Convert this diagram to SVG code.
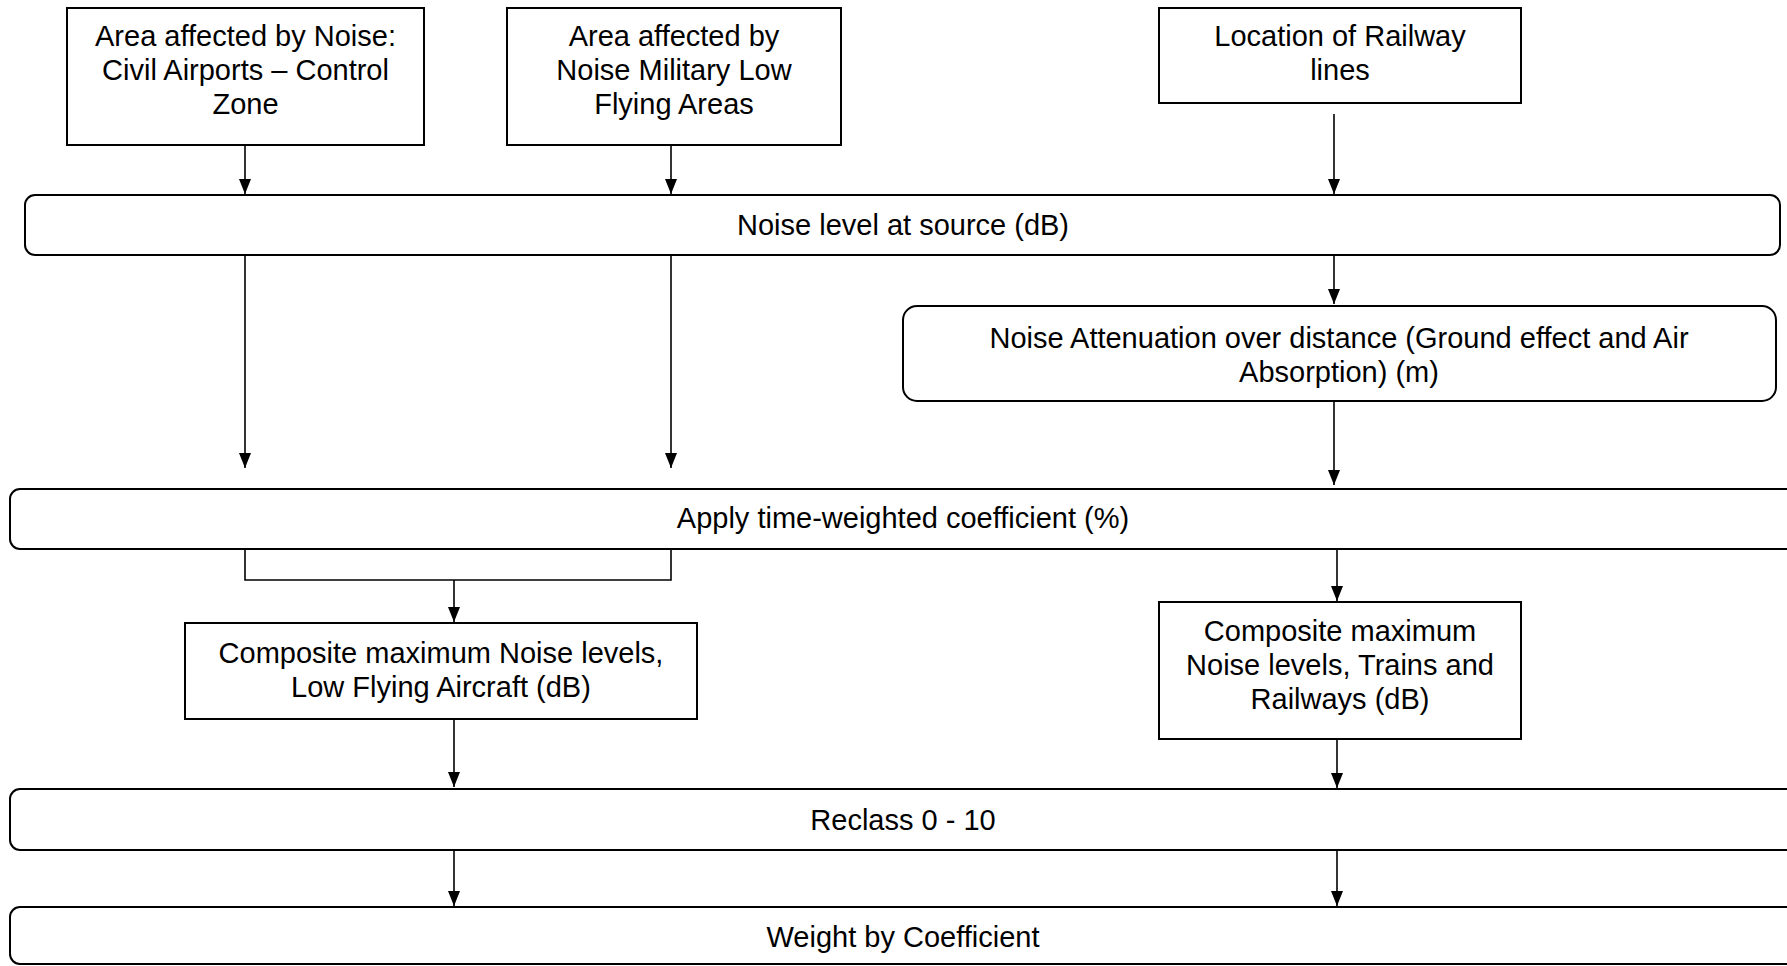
<svg xmlns="http://www.w3.org/2000/svg" width="1787" height="966" viewBox="0 0 1787 966">
<style>
.box{fill:#fff;stroke:#000;stroke-width:2}
.t{font-family:"Liberation Sans",Arial,sans-serif;font-size:29px;fill:#000;text-anchor:middle}
.c{fill:none;stroke:#000;stroke-width:1.6}
</style>
<defs>
<marker id="ah" markerUnits="userSpaceOnUse" markerWidth="15" markerHeight="12" refX="15" refY="6" orient="auto">
<path d="M0,0 L15,6 L0,12 z" fill="#000"/>
</marker>
</defs>
<rect width="1787" height="966" fill="#fff"/>
<g id="connectors">
<line class="c" x1="245" y1="145" x2="245" y2="194" marker-end="url(#ah)"/>
<line class="c" x1="671" y1="145" x2="671" y2="194" marker-end="url(#ah)"/>
<line class="c" x1="1334" y1="114" x2="1334" y2="194" marker-end="url(#ah)"/>
<line class="c" x1="245" y1="255" x2="245" y2="468" marker-end="url(#ah)"/>
<line class="c" x1="671" y1="255" x2="671" y2="468" marker-end="url(#ah)"/>
<line class="c" x1="1334" y1="255" x2="1334" y2="304" marker-end="url(#ah)"/>
<line class="c" x1="1334" y1="397" x2="1334" y2="485" marker-end="url(#ah)"/>
<polyline class="c" points="245,549 245,580 671,580 671,549"/>
<line class="c" x1="454" y1="580" x2="454" y2="622" marker-end="url(#ah)"/>
<line class="c" x1="1337" y1="549" x2="1337" y2="601" marker-end="url(#ah)"/>
<line class="c" x1="454" y1="714" x2="454" y2="787" marker-end="url(#ah)"/>
<line class="c" x1="1337" y1="739" x2="1337" y2="788" marker-end="url(#ah)"/>
<line class="c" x1="454" y1="850" x2="454" y2="906" marker-end="url(#ah)"/>
<line class="c" x1="1337" y1="850" x2="1337" y2="906" marker-end="url(#ah)"/>
</g>
<g id="n-civil">
<rect class="box" x="67" y="8" width="357" height="137"/>
<text class="t" x="245.5" y="46">Area affected by Noise:</text>
<text class="t" x="245.5" y="80">Civil Airports – Control</text>
<text class="t" x="245.5" y="114">Zone</text>
</g>
<g id="n-military">
<rect class="box" x="507" y="8" width="334" height="137"/>
<text class="t" x="674" y="46">Area affected by</text>
<text class="t" x="674" y="80">Noise Military Low</text>
<text class="t" x="674" y="114">Flying Areas</text>
</g>
<g id="n-railway">
<rect class="box" x="1159" y="8" width="362" height="95"/>
<text class="t" x="1340" y="46">Location of Railway</text>
<text class="t" x="1340" y="80">lines</text>
</g>
<g id="n-source">
<rect class="box" x="25" y="195" width="1755" height="60" rx="10"/>
<text class="t" x="903" y="235">Noise level at source (dB)</text>
</g>
<g id="n-attenuation">
<rect class="box" x="903" y="306" width="873" height="95" rx="14"/>
<text class="t" x="1339" y="348">Noise Attenuation over distance (Ground effect and Air</text>
<text class="t" x="1339" y="382">Absorption) (m)</text>
</g>
<g id="n-time">
<rect class="box" x="10" y="489" width="1800" height="60" rx="10"/>
<text class="t" x="903" y="528">Apply time-weighted coefficient (%)</text>
</g>
<g id="n-lfa">
<rect class="box" x="185" y="623" width="512" height="96"/>
<text class="t" x="441" y="663">Composite maximum Noise levels,</text>
<text class="t" x="441" y="697">Low Flying Aircraft (dB)</text>
</g>
<g id="n-trains">
<rect class="box" x="1159" y="602" width="362" height="137"/>
<text class="t" x="1340" y="641">Composite maximum</text>
<text class="t" x="1340" y="675">Noise levels, Trains and</text>
<text class="t" x="1340" y="709">Railways (dB)</text>
</g>
<g id="n-reclass">
<rect class="box" x="10" y="789" width="1800" height="61" rx="10"/>
<text class="t" x="903" y="830">Reclass 0 - 10</text>
</g>
<g id="n-weight">
<rect class="box" x="10" y="907" width="1800" height="57" rx="10"/>
<text class="t" x="903" y="947">Weight by Coefficient</text>
</g>
</svg>
